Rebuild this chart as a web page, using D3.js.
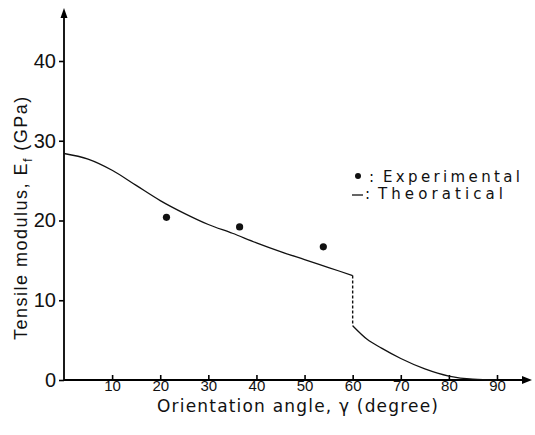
<!DOCTYPE html>
<html lang="en">
<head>
  <meta charset="UTF-8" />
  <title>Tensile modulus vs orientation angle</title>
  <style>
    body {
      margin: 0;
      background-color: #fff;
      font-family: "Liberation Sans", Arial, sans-serif;
    }
    svg { display: block; }
    .axis path, .axis line { stroke: #000; stroke-width: 1.6px; }
    .axis text { fill: #111; font-family: "Liberation Sans", Arial, sans-serif; }
  </style>
</head>
<body>
  <svg width="535" height="435"></svg>

  <script src="https://cdnjs.cloudflare.com/ajax/libs/d3/7.8.5/d3.min.js"></script>
  <script>
    // Theoretical curve, left part (up to the jump at 60 degrees)
    const theoryA = [
      [0, 28.4], [5, 27.7], [10, 26.3], [15, 24.4], [20, 22.5], [25, 20.9],
      [30, 19.5], [35, 18.4], [40, 17.2], [45, 16.1], [50, 15.1], [55, 14.1], [60, 13.1]
    ];
    // Theoretical curve, right part
    const theoryB = [
      [60, 6.8], [63, 5.1], [66, 4.0], [70, 2.7], [75, 1.4], [80, 0.5], [85, 0.1], [90, 0]
    ];
    // dashed jump
    const jump = [[60, 13.1], [60, 6.8]];
    // experimental points
    const expAngle = [21.3, 36.5, 53.9];
    const expModulus = [20.4, 19.2, 16.7];

    const xTicks = [10, 20, 30, 40, 50, 60, 70, 80, 90];
    const yTicks = [0, 10, 20, 30, 40];

    const svg = d3.select("svg");

    const x = d3.scaleLinear().domain([0, 90]).range([64, 497]);
    const y = d3.scaleLinear().domain([0, 40]).range([380, 61]);

    // Axes
    const xAxis = svg.append("g")
      .attr("class", "axis")
      .attr("transform", "translate(0,380)")
      .call(d3.axisBottom(x).tickValues(xTicks).tickSize(-5).tickSizeOuter(0).tickPadding(0));
    xAxis.select(".domain").remove();
    xAxis.selectAll("text").attr("font-size", "15px").attr("dy", "0.75em");

    const yAxis = svg.append("g")
      .attr("class", "axis")
      .attr("transform", "translate(64,0)")
      .call(d3.axisLeft(y).tickValues(yTicks).tickSize(5).tickSizeOuter(0).tickPadding(3));
    yAxis.select(".domain").remove();
    yAxis.selectAll("text").attr("font-size", "20px");

    // axis lines with arrows
    svg.append("line").attr("x1", 64).attr("y1", 380).attr("x2", 526).attr("y2", 380)
      .attr("stroke", "#000").attr("stroke-width", 1.8);
    svg.append("path").attr("d", "M532,380 L522,376 L522,384 Z").attr("fill", "#000");
    svg.append("line").attr("x1", 64).attr("y1", 381).attr("x2", 64).attr("y2", 14)
      .attr("stroke", "#000").attr("stroke-width", 1.8);
    svg.append("path").attr("d", "M64,8 L60.5,18 L67.5,18 Z").attr("fill", "#000");

    // Theoretical curve
    const line = d3.line()
      .x(d => x(d[0]))
      .y(d => y(d[1]))
      .curve(d3.curveMonotoneX);

    svg.append("path").datum(theoryA)
      .attr("d", line).attr("fill", "none").attr("stroke", "#111").attr("stroke-width", 1.3);
    svg.append("path").datum(theoryB)
      .attr("d", line).attr("fill", "none").attr("stroke", "#111").attr("stroke-width", 1.3);
    svg.append("path").datum(jump)
      .attr("d", d3.line().x(d => x(d[0])).y(d => y(d[1])))
      .attr("fill", "none").attr("stroke", "#111").attr("stroke-width", 1.4)
      .attr("stroke-dasharray", "3,2");

    // Experimental points
    svg.append("g").selectAll("circle")
      .data(expAngle)
      .join("circle")
      .attr("cx", d => x(d))
      .attr("cy", (d, i) => y(expModulus[i]))
      .attr("r", 3.6)
      .attr("fill", "#111");

    // Legend
    const legend = svg.append("g")
      .attr("font-size", "15px").attr("fill", "#111")
      .style("font-family", "'DejaVu Sans', sans-serif");
    legend.append("circle").attr("cx", 358).attr("cy", 176).attr("r", 3).attr("fill", "#111");
    legend.append("text").attr("x", 369).attr("y", 182).text(":");
    legend.append("text").attr("x", 383).attr("y", 182)
      .attr("textLength", 137).attr("lengthAdjust", "spacing").text("Experimental");
    legend.append("line").attr("x1", 352).attr("x2", 363).attr("y1", 195).attr("y2", 195)
      .attr("stroke", "#111").attr("stroke-width", 1.3);
    legend.append("text").attr("x", 365).attr("y", 199).text(":");
    legend.append("text").attr("x", 378).attr("y", 199)
      .attr("textLength", 125).attr("lengthAdjust", "spacing").text("Theoratical");

    // Axis titles
    svg.append("text")
      .attr("x", 157).attr("y", 412)
      .attr("font-size", "17px").attr("fill", "#111")
      .style("font-family", "'DejaVu Sans', sans-serif")
      .attr("textLength", 281).attr("lengthAdjust", "spacing")
      .text("Orientation angle, γ (degree)");

    const yTitle = svg.append("text")
      .attr("transform", "translate(27,340) rotate(-90)")
      .attr("font-size", "18px").attr("fill", "#111")
      .attr("letter-spacing", "1.5px");
    yTitle.append("tspan").text("Tensile modulus, E");
    yTitle.append("tspan").attr("font-size", "13px").attr("dy", 5).text("f");
    yTitle.append("tspan").attr("dy", -5).attr("dx", 6).text("(GPa)");
  </script>
</body>
</html>
